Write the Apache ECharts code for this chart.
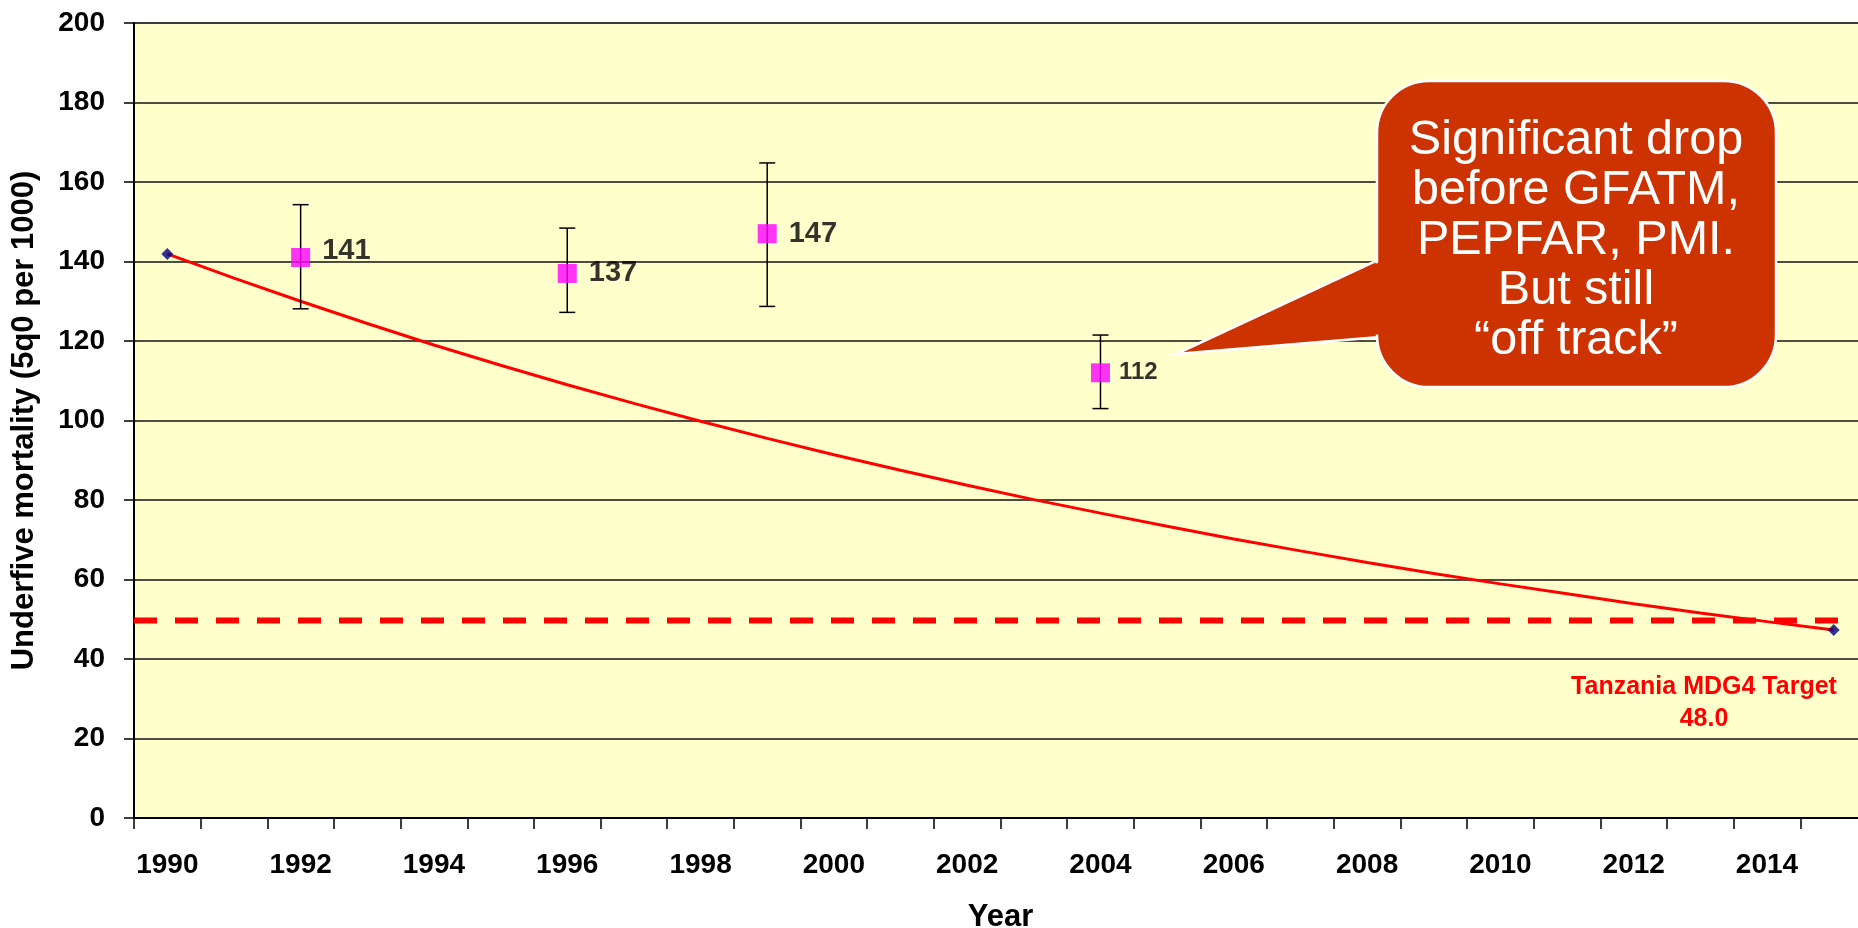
<!DOCTYPE html>
<html>
<head>
<meta charset="utf-8">
<script src="https://cdn.jsdelivr.net/npm/echarts@6/dist/echarts.min.js"></script>
<style>
html,body{margin:0;padding:0;background:#fff;}
#chart{width:1858px;height:928px;}
</style>
</head>
<body>
<div id="chart"></div>
<script>
// ---- data ----
const years = ['1990','1991','1992','1993','1994','1995','1996','1997','1998','1999','2000','2001','2002',
  '2003','2004','2005','2006','2007','2008','2009','2010','2011','2012','2013','2014','2015'];
const yTicks = [0,20,40,60,80,100,120,140,160,180,200];

const surveyYears  = ['1992','1996','1999','2004'];
const surveyValues = [141, 137, 147, 112];
const ciLower      = [128.1, 127.2, 128.7, 103.0];
const ciUpper      = [154.3, 148.4, 164.8, 121.5];

// MDG4 trajectory (one value per year)
const trendYears  = years;
const trendValues = [141.9, 135.8, 130.0, 124.4, 119.0, 113.9, 109.0, 104.3, 99.8, 95.5, 91.4, 87.5, 83.7,
  80.1, 76.7, 73.4, 70.2, 67.2, 64.3, 61.5, 58.9, 56.4, 53.9, 51.6, 49.4, 47.3];
const trendEndYears = ['1990','2015'];

const targetX     = [1990, 2015.62];
const targetLevel = 49.7;
const targetLabel = ['Tanzania MDG4 Target', '48.0'];

const calloutLines = ['Significant drop', 'before GFATM,', 'PEPFAR, PMI.', 'But still', '\u201Coff track\u201D'];

// ---- chart ----
const chart = echarts.init(document.getElementById('chart'), null, {renderer:'canvas'});
const FONT = 'Liberation Sans, Arial, sans-serif';

const surveyData = surveyYears.map((y,i)=>{
  const d = {value:[y, surveyValues[i]]};
  if (i === 0) d.label = {offset:[0,-7]};
  if (i === 3) { d.label = {fontSize:24, distance:9}; d.symbolSize = 19; }
  return d;
});

const option = {
  animation:false,
  backgroundColor:'#ffffff',
  grid:{left:134, top:23, width:1733, height:795, show:true, backgroundColor:'#FFFFCC', borderColor:'#7f7f7f', borderWidth:1,
        containLabel:false, outerBoundsMode:'none'},
  xAxis:[{
    type:'category', data:years, boundaryGap:true,
    axisLine:{lineStyle:{color:'#000', width:2}},
    axisTick:{show:true, interval:0, length:11, lineStyle:{color:'#000', width:1.5}},
    axisLabel:{interval:1, color:'#000', fontFamily:FONT, fontWeight:'bold', fontSize:28, margin:33},
    splitLine:{show:false},
    name:'Year', nameLocation:'middle', nameGap:84,
    nameTextStyle:{color:'#000', fontFamily:FONT, fontWeight:'bold', fontSize:31}
  },{
    type:'value', min:1990, max:2016, show:false
  }],
  yAxis:{
    type:'value', min:yTicks[0], max:yTicks[yTicks.length-1], interval:20,
    axisLine:{show:true, lineStyle:{color:'#000', width:2}},
    axisTick:{show:true, length:10, lineStyle:{color:'#000', width:1.5}},
    axisLabel:{color:'#000', fontFamily:FONT, fontWeight:'bold', fontSize:28, margin:29},
    splitLine:{show:true, lineStyle:{color:'#111', width:1.5}},
    name:'Underfive mortality (5q0 per 1000)', nameLocation:'middle', nameGap:94,
    nameTextStyle:{color:'#000', fontFamily:FONT, fontWeight:'bold', fontSize:31}
  },
  series:[
    {
      type:'line', xAxisIndex:1, data:targetX.map(x=>[x, targetLevel]),
      symbol:'none', silent:true,
      lineStyle:{color:'#FF0000', width:6, type:[23,18]}, z:2
    },
    {
      type:'line', xAxisIndex:0, data:trendYears.map((y,i)=>[y, trendValues[i]]),
      symbol:'none', lineStyle:{color:'#FF0000', width:3}, z:3
    },
    {
      type:'scatter', xAxisIndex:0,
      data:trendEndYears.map(y=>[y, trendValues[trendYears.indexOf(y)]]),
      symbol:'diamond', symbolSize:12, itemStyle:{color:'#000080'}, z:4
    },
    {
      type:'custom', xAxisIndex:0, data:surveyYears.map((y,i)=>[y, ciLower[i], ciUpper[i]]),
      encode:{x:0, y:[1,2]}, z:4,
      renderItem:function(params, api){
        const x = api.value(0);
        const lo = api.coord([x, api.value(1)]);
        const hi = api.coord([x, api.value(2)]);
        const w = 8;
        const st = {stroke:'#000', lineWidth:1.5};
        return {type:'group', children:[
          {type:'line', shape:{x1:lo[0], y1:lo[1], x2:hi[0], y2:hi[1]}, style:st},
          {type:'line', shape:{x1:lo[0]-w, y1:lo[1], x2:lo[0]+w, y2:lo[1]}, style:st},
          {type:'line', shape:{x1:hi[0]-w, y1:hi[1], x2:hi[0]+w, y2:hi[1]}, style:st}
        ]};
      }
    },
    {
      type:'scatter', xAxisIndex:0, data:surveyData,
      symbol:'rect', symbolSize:19, itemStyle:{color:'#FF00FF'}, z:5,
      label:{show:true, position:'right', distance:12, color:'#000', fontFamily:FONT, fontWeight:'bold', fontSize:29,
        formatter:p=>String(p.value[1])}
    }
  ],
  graphic:[
    {type:'polygon', z:100, shape:{points:[[1176,354],[1380,259],[1380,337]]},
      style:{fill:'#CC3300', stroke:'#ffffff', lineWidth:2.5}},
    {type:'rect', z:101, shape:{x:1377, y:81, width:399, height:306, r:52},
      style:{fill:'#CC3300', stroke:'#ffffff', lineWidth:2.5}},
    {type:'polygon', z:102, shape:{points:[[1368,267],[1387,259],[1387,334],[1368,335]]},
      style:{fill:'#CC3300'}},
    {type:'text', z:103, x:1576, y:241,
      style:{text:calloutLines.join('\n'), fill:'#ffffff', font:'48.5px ' + FONT, align:'center', verticalAlign:'middle', lineHeight:50}},
    {type:'text', z:50, x:1704, y:703,
      style:{text:targetLabel.join('\n'), fill:'#FF0000', font:'bold 25px ' + FONT, align:'center', verticalAlign:'middle', lineHeight:32}}
  ]
};
chart.setOption(option);
</script>
</body>
</html>
